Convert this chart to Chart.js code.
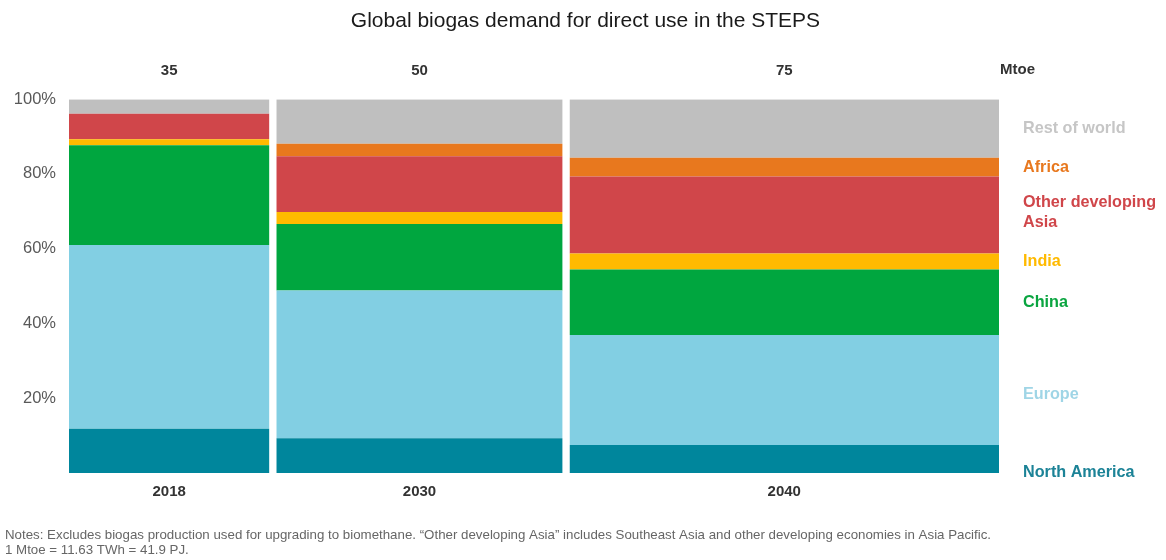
<!DOCTYPE html>
<html>
<head>
<meta charset="utf-8">
<script src="https://cdn.jsdelivr.net/npm/chart.js@4"></script>
<style>
  html, body { margin: 0; padding: 0; background: #fff; }
  #wrap { width: 1166px; height: 560px; position: relative; }
</style>
</head>
<body>
<div id="wrap"><canvas id="chart"></canvas></div>
<script>
// ---- data ----
const years = ['2018', '2030', '2040'];
const totals = [35, 50, 75];              // Mtoe, also the column widths
const regions = ['North America', 'Europe', 'China', 'India', 'Other developing Asia', 'Africa', 'Rest of world'];

// share of each year's demand, %
const northAmerica = [11.8, 9.3, 7.5];
const europe       = [49.2, 39.5, 29.4];
const china        = [26.7, 17.8, 17.5];
const india        = [1.6, 3.2, 4.3];
const otherAsia    = [6.8, 14.9, 20.6];
const africa       = [0, 3.4, 5.0];
const restOfWorld  = [3.9, 11.9, 15.7];

const yTicks = [20, 40, 60, 80, 100];

// ---- styling ----
const FONT = '"Liberation Sans", Arial, sans-serif';
const fillColors  = ['#00869c', '#82cfe3', '#00a63f', '#ffba00', '#d0464a', '#e8781e', '#bfbfbf'];
const labelColors = ['#1c8397', '#9fd5e6', '#0aa540', '#ffba00', '#d0464a', '#e8781e', '#c6c6c6'];
const GAP = 1.2;   // blank space between columns, in Mtoe units

const shares = [northAmerica, europe, china, india, otherAsia, africa, restOfWorld];

// column edges along the x axis
let starts = [], acc = 0;
totals.forEach(t => { starts.push(acc); acc += t + GAP; });
const xMax = acc - GAP;
const centers = totals.map((t, i) => starts[i] + t / 2);

// one filled rectangle per (year, region): a flat line filled down to the segment's base
let datasets = [];
years.forEach((yr, i) => {
    let base = 0;
    shares.forEach((arr, r) => {
        let top = base + arr[i];
        datasets.push({
            label: regions[r] + ' ' + yr,
            data: [{ x: starts[i], y: top }, { x: starts[i] + totals[i], y: top }],
            fill: { value: base },
            backgroundColor: fillColors[r],
            borderWidth: 0,
            pointRadius: 0,
            tension: 0
        });
        base = top;
    });
});

// right-hand labels next to the 2040 column
let mids = [], b = 0;
shares.forEach(arr => { mids.push(b + arr[2] / 2); b += arr[2]; });
mids[0] = 0;     // "North America" sits on the baseline
mids[1] -= 1.2;  // "Europe" a little below the middle
mids[4] += 0.7;
const rightLabels = ['North America', 'Europe', 'China', 'India', ['Other developing', 'Asia'], 'Africa', 'Rest of world'];

const mtoePlugin = {
    id: 'mtoe',
    afterDraw(chart) {
        const c = chart.ctx;
        c.save();
        c.font = 'bold 15px ' + FONT;
        c.fillStyle = '#333';
        c.textAlign = 'left';
        c.textBaseline = 'middle';
        c.fillText('Mtoe', chart.chartArea.right + 1, chart.chartArea.top - 29);
        c.restore();
    }
};

new Chart(document.getElementById('chart'), {
    type: 'line',
    data: { datasets: datasets },
    plugins: [mtoePlugin],
    options: {
        responsive: true,
        maintainAspectRatio: false,
        animation: false,
        layout: { padding: { left: 5, right: 0, top: 0, bottom: 2 } },
        plugins: {
            legend: { display: false },
            tooltip: { enabled: false },
            title: {
                display: true,
                text: 'Global biogas demand for direct use in the STEPS',
                color: '#1a1a1a',
                font: { family: FONT, size: 21, weight: 'normal', lineHeight: 1.15 },
                padding: { top: 9, bottom: 0 }
            },
            subtitle: {
                display: true,
                position: 'bottom',
                align: 'start',
                text: ['Notes: Excludes biogas production used for upgrading to biomethane. \u201cOther developing Asia\u201d includes Southeast Asia and other developing economies in Asia Pacific.',
                       '1 Mtoe = 11.63 TWh = 41.9 PJ.'],
                color: '#666',
                font: { family: FONT, size: 13.3, lineHeight: 1.13 },
                padding: { top: 0, bottom: 0 }
            }
        },
        scales: {
            x: {
                type: 'linear', position: 'bottom', min: 0, max: xMax,
                grid: { display: false, drawTicks: false }, border: { display: false },
                afterBuildTicks: s => { s.ticks = centers.map(v => ({ value: v })); },
                afterFit: s => { s.height = 55; },
                ticks: {
                    autoSkip: false, maxRotation: 0, padding: 10,
                    color: '#333', font: { family: FONT, size: 15, weight: 'bold' },
                    callback: (v, i) => years[i]
                }
            },
            x2: {
                type: 'linear', position: 'top', min: 0, max: xMax,
                grid: { display: false, drawTicks: false }, border: { display: false },
                afterBuildTicks: s => { s.ticks = centers.map(v => ({ value: v })); },
                afterFit: s => { s.height = 66; },
                ticks: {
                    autoSkip: false, maxRotation: 0, padding: 19,
                    color: '#333', font: { family: FONT, size: 15, weight: 'bold' },
                    callback: (v, i) => String(totals[i])
                }
            },
            y: {
                type: 'linear', position: 'left', min: 0, max: 100,
                grid: { display: false, drawTicks: false }, border: { display: false },
                afterBuildTicks: s => { s.ticks = yTicks.map(v => ({ value: v })); },
                afterFit: s => { s.width = 64; },
                ticks: {
                    padding: 13, color: '#595959',
                    font: { family: FONT, size: 16.5 },
                    callback: v => v + '%'
                }
            },
            y2: {
                type: 'linear', position: 'right', min: 0, max: 100,
                grid: { display: false, drawTicks: false }, border: { display: false },
                afterBuildTicks: s => { s.ticks = mids.map(v => ({ value: v })); },
                afterFit: s => { s.width = 167; },
                ticks: {
                    padding: 24,
                    font: { family: FONT, size: 16.2, weight: 'bold', lineHeight: 1.2 },
                    color: c => labelColors[c.index],
                    callback: (v, i) => rightLabels[i]
                }
            }
        }
    }
});
</script>
</body>
</html>
